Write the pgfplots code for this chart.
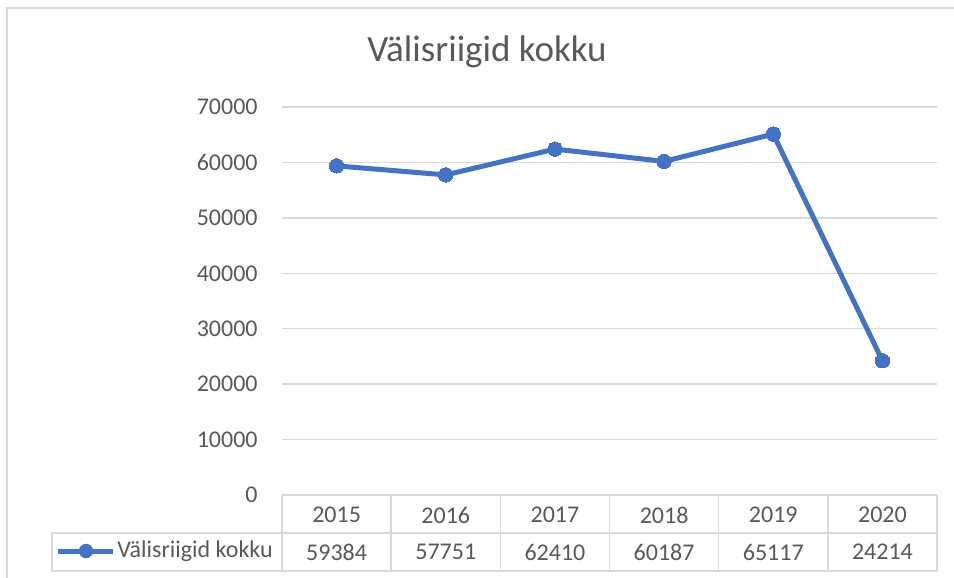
\documentclass[border=0pt]{standalone}
\usepackage{pgfplots}
\pgfplotsset{compat=1.18}
\usepackage{fontspec}
\setmainfont{Carlito}
\definecolor{xlblue}{HTML}{4472C4}
\definecolor{xlgrid}{HTML}{D9D9D9}
\definecolor{xltext}{HTML}{595959}

\begin{document}
\begin{tikzpicture}
% picture frame, 1 px = 0.5pt, origin at top left
\begin{scope}[x=0.5pt,y=-0.5pt]
\path[use as bounding box] (0,0) rectangle (954,578);
\draw[xlgrid,line width=0.9pt] (7,600) -- (7,8) -- (970,8);
\node[text=xltext,font=\fontsize{18.5}{20}\selectfont] at (487,52) {Välisriigid kokku};
% data table grid
\draw[xlgrid,line width=0.7pt] (282,495) -- (937,495);
\draw[xlgrid,line width=0.7pt] (52,533) -- (937,533);
\draw[xlgrid,line width=0.7pt] (52,571) -- (937,571);
\draw[xlgrid,line width=0.7pt] (52,533) -- (52,571);
\foreach \xx in {282,391.17,500.33,609.5,718.67,827.83,937}
  \draw[xlgrid,line width=0.7pt] (\xx,495) -- (\xx,571);
\foreach \yr [count=\i from 0] in {2015,2016,2017,2018,2019,2020}
  \node[text=xltext,font=\fontsize{12}{14}\selectfont] at (282+109.17*\i+54.58,515) {\yr};
\foreach \v [count=\i from 0] in {59384,57751,62410,60187,65117,24214}
  \node[text=xltext,font=\fontsize{12}{14}\selectfont] at (282+109.17*\i+54.58,552) {\v};
\draw[xlblue,line width=2.5pt] (58,551) -- (113,551);
\fill[xlblue] (86,551) circle (3.6pt);
\node[text=xltext,font=\fontsize{12}{14}\selectfont,anchor=west,inner sep=0pt] at (117,551) {Välisriigid kokku};
\end{scope}
\begin{axis}[
  at={(141pt,-247.5pt)}, anchor=south west,
  scale only axis, width=327.5pt, height=194pt,
  xmin=-0.5, xmax=5.5, ymin=0, ymax=70000,
  axis line style={draw=none},
  xtick=\empty,
  ytick={0,10000,...,70000},
  ymajorgrids, grid style={xlgrid,line width=0.7pt},
  major tick length=0pt,
  scaled y ticks=false,
  yticklabel style={text=xltext,font=\fontsize{12}{14}\selectfont,/pgf/number format/assume math mode=true},
  yticklabel={\pgfmathprintnumber[fixed,precision=0,1000 sep={}]{\tick}},
  every tick label/.append style={inner xsep=0pt},
  yticklabel shift=12pt,
  clip=false,
]
\addplot[xlblue,line width=2.5pt,mark=*,mark size=3.6pt,mark options={fill=xlblue,draw=xlblue,line width=0pt}]
  coordinates {(0,59384)(1,57751)(2,62410)(3,60187)(4,65117)(5,24214)};
\end{axis}
\end{tikzpicture}
\end{document}
